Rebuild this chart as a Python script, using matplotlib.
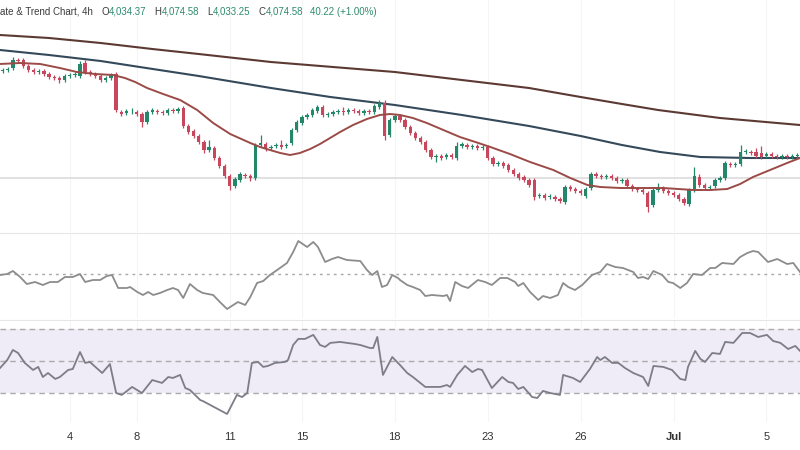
import numpy as np
import matplotlib.pyplot as plt

# ---- data (4h bars) ----
opens = [4247, 4249, 4253, 4269, 4269, 4257, 4249, 4245, 4247, 4241,
         4235, 4233, 4229, 4237, 4239, 4237, 4263, 4245, 4241, 4237,
         4229, 4233, 4241, 4165, 4163, 4165, 4165, 4161, 4145, 4165,
         4167, 4165, 4163, 4169, 4167, 4173, 4137, 4127, 4117, 4105,
         4089, 4093, 4073, 4057, 4037, 4017, 4029, 4039, 4037, 4033,
         4099, 4101, 4093, 4097, 4099, 4097, 4103, 4129, 4143, 4155,
         4159, 4167, 4175, 4159, 4161, 4165, 4167, 4165, 4169, 4167,
         4163, 4167, 4165, 4175, 4183, 4119, 4149, 4157, 4149, 4135,
         4123, 4113, 4105, 4089, 4075, 4077, 4075, 4079, 4073, 4097,
         4099, 4095, 4097, 4093, 4095, 4073, 4061, 4063, 4059, 4049,
         4041, 4035, 4029, 4029, 3997, 3999, 3995, 3995, 3991, 3985,
         4015, 4011, 4007, 3997, 4013, 4041, 4037, 4035, 4037, 4033,
         4027, 4029, 4017, 4011, 4009, 4003, 3979, 4009, 4013, 4007,
         4003, 3999, 3991, 3981, 4009, 4035, 4019, 4013, 4017, 4029,
         4033, 4061, 4059, 4061, 4085, 4085, 4085, 4083, 4077, 4081,
         4077, 4075, 4077, 4075, 4077]
closes = [4249, 4251, 4269, 4267, 4257, 4249, 4245, 4247, 4241, 4235,
          4233, 4229, 4237, 4239, 4241, 4261, 4245, 4241, 4237, 4229,
          4233, 4239, 4169, 4161, 4167, 4166, 4161, 4145, 4165, 4169,
          4165, 4163, 4169, 4167, 4171, 4137, 4125, 4117, 4105, 4089,
          4095, 4073, 4057, 4037, 4017, 4031, 4041, 4037, 4033, 4099,
          4103, 4091, 4095, 4099, 4095, 4099, 4129, 4145, 4155, 4159,
          4169, 4175, 4159, 4161, 4165, 4167, 4165, 4169, 4167, 4163,
          4167, 4165, 4177, 4183, 4117, 4149, 4157, 4149, 4135, 4123,
          4113, 4105, 4089, 4075, 4077, 4073, 4079, 4075, 4097, 4101,
          4095, 4097, 4093, 4095, 4073, 4061, 4063, 4057, 4049, 4041,
          4033, 4029, 4019, 3995, 3999, 3993, 3997, 3991, 3987, 4015,
          4011, 4007, 4003, 4011, 4041, 4037, 4035, 4037, 4033, 4027,
          4029, 4017, 4011, 4009, 4005, 3975, 4009, 4013, 4007, 4003,
          3999, 3991, 3983, 4009, 4037, 4019, 4013, 4015, 4029, 4033,
          4063, 4059, 4061, 4085, 4087, 4083, 4077, 4075, 4081, 4077,
          4075, 4077, 4075, 4077, 4079]
highs = [4253, 4255, 4275, 4273, 4273, 4261, 4253, 4251, 4251, 4245,
         4239, 4237, 4241, 4243, 4245, 4267, 4269, 4249, 4245, 4241,
         4237, 4243, 4245, 4169, 4171, 4173, 4169, 4165, 4169, 4173,
         4171, 4169, 4173, 4173, 4175, 4177, 4141, 4131, 4121, 4109,
         4109, 4097, 4077, 4061, 4041, 4035, 4045, 4043, 4041, 4103,
         4119, 4105, 4099, 4103, 4109, 4103, 4133, 4149, 4159, 4163,
         4173, 4179, 4179, 4165, 4169, 4171, 4175, 4173, 4173, 4171,
         4171, 4171, 4181, 4189, 4189, 4153, 4161, 4161, 4153, 4139,
         4127, 4117, 4109, 4093, 4081, 4081, 4083, 4083, 4105, 4105,
         4103, 4101, 4101, 4099, 4099, 4077, 4067, 4067, 4063, 4053,
         4045, 4039, 4033, 4033, 4003, 4003, 4001, 3999, 3995, 4019,
         4019, 4015, 4011, 4015, 4045, 4045, 4041, 4041, 4041, 4037,
         4033, 4033, 4021, 4015, 4013, 4007, 4013, 4023, 4017, 4011,
         4007, 4003, 3995, 4013, 4055, 4041, 4023, 4019, 4033, 4037,
         4067, 4065, 4065, 4099, 4091, 4089, 4093, 4097, 4085, 4085,
         4081, 4081, 4081, 4081, 4083]
lows = [4243, 4245, 4249, 4263, 4253, 4245, 4241, 4241, 4237, 4231,
        4229, 4223, 4225, 4233, 4235, 4233, 4241, 4237, 4233, 4225,
        4225, 4229, 4165, 4157, 4159, 4161, 4157, 4135, 4141, 4161,
        4161, 4159, 4159, 4163, 4163, 4133, 4121, 4113, 4101, 4083,
        4085, 4069, 4053, 4033, 4009, 4013, 4025, 4033, 4027, 4029,
        4095, 4087, 4089, 4093, 4091, 4093, 4099, 4125, 4139, 4151,
        4155, 4163, 4155, 4155, 4157, 4161, 4159, 4161, 4163, 4159,
        4159, 4161, 4161, 4171, 4109, 4115, 4145, 4145, 4131, 4119,
        4109, 4101, 4085, 4071, 4065, 4069, 4071, 4071, 4069, 4093,
        4091, 4091, 4089, 4089, 4069, 4057, 4057, 4053, 4045, 4037,
        4029, 4025, 4015, 3989, 3993, 3989, 3991, 3987, 3983, 3981,
        4007, 4003, 3999, 3993, 4009, 4033, 4031, 4031, 4029, 4023,
        4023, 4013, 4007, 4005, 4001, 3965, 3975, 4005, 4003, 3999,
        3995, 3987, 3979, 3977, 4005, 4015, 4009, 4009, 4013, 4025,
        4029, 4055, 4055, 4057, 4081, 4079, 4073, 4071, 4073, 4073,
        4071, 4071, 4071, 4071, 4073]

# moving averages (bar index, price)
ma_long_x = [-0.5, 9, 19, 29, 38, 52, 64, 76, 89, 102, 112, 120, 127, 139, 154.5]
ma_long_y = [4319, 4313, 4303, 4291, 4281, 4265, 4255, 4245, 4229, 4213, 4195, 4181, 4169, 4153, 4139]
ma_mid_x = [-0.5, 9, 19, 25.3, 38, 52, 63.5, 76, 89, 102, 112, 120, 127.4, 135.2, 144.8, 154.5]
ma_mid_y = [4289, 4279, 4267, 4257, 4237, 4213, 4195, 4179, 4159, 4137, 4117, 4099, 4085, 4075, 4073, 4073]
ma_short_x = [-0.5, 3.4, 7.3, 11.1, 14.4, 17.9, 21.4, 23.7, 25.7, 28.0, 31.1, 34.4, 37.7, 40.8,
              44.1, 48.0, 49.9, 51.8, 53.8, 55.7, 57.6, 59.6, 61.5, 65.4, 67.9, 70.6, 73.1, 75.1,
              77.0, 79.5, 82.2, 85.4, 88.6, 91.6, 94.5, 98.3, 102.2, 106.7, 110.0, 113.3, 115.8,
              119.7, 123.5, 128.0, 133.8, 137.1, 140.4, 142.9, 145.4, 148.7, 152.0, 154.5]
ma_short_y = [4261, 4263, 4261, 4253, 4245, 4241, 4239, 4233, 4225, 4213, 4201, 4189, 4169, 4143,
              4121, 4103, 4095, 4089, 4083, 4079, 4083, 4091, 4101, 4125, 4139, 4151, 4159, 4161,
              4159, 4153, 4143, 4129, 4115, 4105, 4095, 4081, 4065, 4049, 4033, 4019, 4015,
              4013, 4013, 4013, 4009, 4009, 4011, 4021, 4035, 4049, 4063, 4073]
hline_price = 4033

osc_x = [-0.5, 0.9, 2.0, 3.4, 4.7, 6.3, 7.8, 9.2, 10.7, 12.1, 13.6, 15.0, 16.0, 17.5, 18.9, 20.2, 21.2,
         22.4, 24.1, 24.7, 26.1, 27.2, 28.2, 29.2, 30.5, 31.9, 33.0, 34.0, 35.0, 36.3, 37.7, 38.8,
         40.8, 42.1, 43.5, 44.7, 45.6, 47.0, 48.0, 49.3, 50.5, 51.8, 53.2, 55.1, 56.3, 57.3, 59.0,
         60.2, 61.1, 62.5, 63.8, 65.0, 66.7, 69.3, 70.6, 71.6, 72.6, 73.5, 74.5, 75.5, 76.6, 77.0,
         78.4, 79.5, 80.9, 81.9, 83.2, 85.4, 86.1, 86.7, 87.7, 89.0, 90.2, 92.1, 93.5, 94.8, 96.4,
         97.8, 99.3, 99.9, 100.9, 102.2, 103.8, 104.7, 106.1, 107.6, 108.6, 109.6, 110.9, 112.3,
         114.2, 115.8, 117.1, 118.7, 120.2, 122.2, 123.1, 124.1, 125.1, 126.1, 127.8, 129.0, 129.9,
         131.3, 132.6, 133.8, 135.5, 137.1, 138.1, 139.4, 141.6, 142.9, 144.3, 145.4, 146.4, 148.3,
         150.1, 152.0, 153.2, 154.5]
osc_y = [49.4, 50.0, 51.8, 48.2, 44.0, 45.2, 43.4, 45.2, 45.2, 48.2, 48.2, 50.0, 45.2, 46.4, 46.4, 48.8, 49.4,
         41.6, 41.6, 42.2, 39.2, 37.4, 39.2, 37.4, 38.6, 40.4, 41.6, 40.4, 35.6, 44.0, 40.4, 38.6,
         37.4, 33.2, 29.0, 31.4, 33.2, 31.4, 36.2, 44.6, 45.8, 49.4, 52.4, 56.6, 63.2, 69.8, 66.2,
         69.2, 66.2, 57.2, 59.0, 60.2, 58.4, 57.8, 52.4, 49.4, 51.8, 42.2, 43.4, 49.4, 47.6, 46.4,
         43.4, 42.2, 40.4, 36.8, 37.4, 36.8, 37.4, 33.8, 45.2, 42.8, 41.6, 46.4, 45.2, 43.4, 47.6,
         47.6, 45.2, 42.8, 44.6, 39.2, 34.4, 36.8, 35.6, 37.4, 44.6, 42.2, 40.4, 43.4,
         49.4, 51.2, 56.0, 54.2, 53.6, 51.2, 47.6, 48.2, 47.0, 51.8, 49.4, 45.2, 44.6,
         41.6, 44.6, 50.0, 49.4, 53.6, 53.6, 56.6, 56.0, 60.2, 62.6, 63.8, 63.2, 57.2,
         59.0, 56.0, 56.6, 51.2]

rsi_x = [-0.5, 0.9, 2.0, 3.0, 4.3, 5.9, 6.9, 7.8, 8.8, 10.2, 11.1, 12.7, 13.6, 15.0, 16.0, 16.9, 19.3,
         20.8, 22.0, 23.1, 25.1, 27.0, 29.0, 30.9, 32.1, 33.0, 34.4, 35.4, 36.3, 38.3, 38.8, 43.5,
         45.4, 46.4, 47.4, 48.3, 49.5, 50.5, 51.4, 52.8, 54.7, 55.3, 56.3, 57.3, 58.6, 60.2, 61.5,
         62.5, 63.5, 65.4, 68.3, 69.3, 71.2, 71.8, 72.6, 73.7, 75.5, 76.6, 77.0, 78.4, 79.5, 81.9,
         83.2, 84.8, 86.1, 86.7, 88.1, 89.6, 91.0, 92.1, 92.9, 94.8, 96.8, 98.0, 98.9, 99.9, 100.9,
         102.6, 103.6, 104.7, 106.1, 108.0, 108.6, 110.5, 111.9, 113.8, 115.2, 115.8, 116.7, 118.1,
         119.3, 120.6, 122.2, 124.1, 125.1, 126.1, 128.0, 129.7, 131.3, 132.3, 132.8, 134.2, 135.2,
         136.1, 137.5, 139.0, 140.0, 141.6, 143.3, 144.8, 146.4, 148.1, 149.3, 150.7, 152.2, 153.6, 154.5]
rsi_y = [45.6, 50.6, 56.9, 55.0, 48.8, 44.4, 46.3, 40.0, 42.5, 38.8, 40.0, 44.4, 45.0, 55.6, 48.8, 49.4, 42.5,
         48.1, 30.0, 28.8, 33.8, 30.0, 38.1, 36.3, 40.0, 39.4, 41.3, 33.1, 31.9, 25.6, 25.0, 16.9,
         28.8, 27.5, 30.0, 48.8, 49.4, 46.3, 46.9, 48.8, 49.4, 50.6, 60.0, 63.8, 63.8, 66.3, 60.0,
         58.8, 61.3, 61.9, 60.6, 60.0, 58.1, 58.1, 65.0, 41.3, 52.5, 48.8, 47.5, 42.5, 40.0, 33.8,
         33.8, 33.8, 35.0, 33.8, 41.3, 46.9, 43.1, 45.0, 44.4, 33.1, 40.0, 36.9, 36.3, 32.5, 33.8,
         27.5, 26.9, 31.3, 30.0, 28.8, 41.3, 39.4, 36.9, 45.0, 52.5, 50.6, 52.5, 48.8,
         48.8, 45.6, 42.5, 40.0, 34.4, 46.9, 46.3, 44.4, 38.8, 38.1, 46.3, 56.3, 51.3,
         49.4, 55.0, 54.4, 61.9, 61.3, 67.5, 67.5, 65.0, 66.3, 62.5, 61.3, 57.5, 59.4, 56.3]

tick_pos = [13, 26, 44, 58, 76, 94, 112, 130, 148]
tick_lab = ["4", "8", "11", "15", "18", "23", "26", "Jul", "5"]

UP = "#24876a"
DOWN = "#c8475c"

plt.rcParams['font.family'] = ['Liberation Sans', 'DejaVu Sans']

fig = plt.figure(figsize=(8, 4.5), dpi=100)
fig.patch.set_facecolor("white")

H = 450.0
def pane(top_px, bot_px):
    return fig.add_axes([0, 1 - bot_px / H, 1, (bot_px - top_px) / H])

ax1 = pane(0, 232)
ax2 = pane(233, 318)
ax3 = pane(320, 422)

n = len(opens)
idx = np.arange(n)
o = np.array(opens); c = np.array(closes)
hi = np.array(highs); lo = np.array(lows)
cols = np.where(c >= o, UP, DOWN)

for ax in (ax1, ax2, ax3):
    ax.set_xlim(-0.5, n - 0.5)
    for s in ax.spines.values():
        s.set_visible(False)
    ax.set_yticks([])
    ax.set_xticks(tick_pos)
    ax.tick_params(length=0, labelbottom=False)
    ax.grid(axis="x", color="#f5f5f5", linewidth=0.8)
    ax.set_axisbelow(True)

# main pane
ax1.set_ylim(3925, 4389)
ax1.axhline(hline_price, color="#dcdcdc", linewidth=1.2, zorder=1)
ax1.plot(ma_long_x, ma_long_y, color="#5c3a33", linewidth=1.5, zorder=2)
ax1.plot(ma_mid_x, ma_mid_y, color="#34495a", linewidth=1.5, zorder=2)
ax1.vlines(idx, lo, hi, colors=cols, linewidth=0.9, zorder=3)
ax1.bar(idx, c - o, bottom=o, width=0.65, color=cols, linewidth=0, zorder=4)
ax1.plot(ma_short_x, ma_short_y, color="#9b4b47", linewidth=1.4, zorder=5)

# oscillator pane
ax2.set_ylim(23.6, 74.6)
ax2.axhline(50, color="#a8a8a8", linewidth=1.0, linestyle=(0, (2, 3)))
ax2.plot(osc_x, osc_y, color="#8c8c8c", linewidth=1.3)
ax2.spines["top"].set_visible(True)
ax2.spines["top"].set_color("#e6e6e6")

# RSI pane
ax3.set_ylim(11.9, 75.6)
ax3.axhspan(30, 70, color="#efebf7", linewidth=0)
for lv in (30, 50, 70):
    ax3.axhline(lv, color="#ababab", linewidth=1.0, linestyle=(0, (4, 3)))
ax3.plot(rsi_x, rsi_y, color="#7d7d87", linewidth=1.3)
ax3.spines["top"].set_visible(True)
ax3.spines["top"].set_color("#e6e6e6")
ax3.tick_params(labelbottom=True, pad=7, labelsize=8, labelcolor="#333333")
ax3.set_xticklabels(tick_lab)
for t in ax3.get_xticklabels():
    if t.get_text() == "Jul":
        t.set_fontweight("bold")

# header line
TXT = "#3a3a3a"
GRN = "#2e8b6e"
FS = 7
t = fig.text(0.0, 1 - 12 / H, "ate & Trend Chart, 4h", color=TXT, fontsize=FS, va="center")
parts = [("O", TXT, 6), ("4,034.37", GRN, 0), ("H", TXT, 6), ("4,074.58", GRN, 0),
         ("L", TXT, 6), ("4,033.25", GRN, 0), ("C", TXT, 6), ("4,074.58", GRN, 0),
         ("40.22 (+1.00%)", GRN, 5)]
prev = t
for s, col, gap in parts:
    prev = ax1.annotate(s, xy=(1, 0.5), xycoords=prev, xytext=(gap, 0), textcoords="offset points",
                        color=col, fontsize=FS, va="center", ha="left", annotation_clip=False)

fig.savefig("out.png", dpi=100)
